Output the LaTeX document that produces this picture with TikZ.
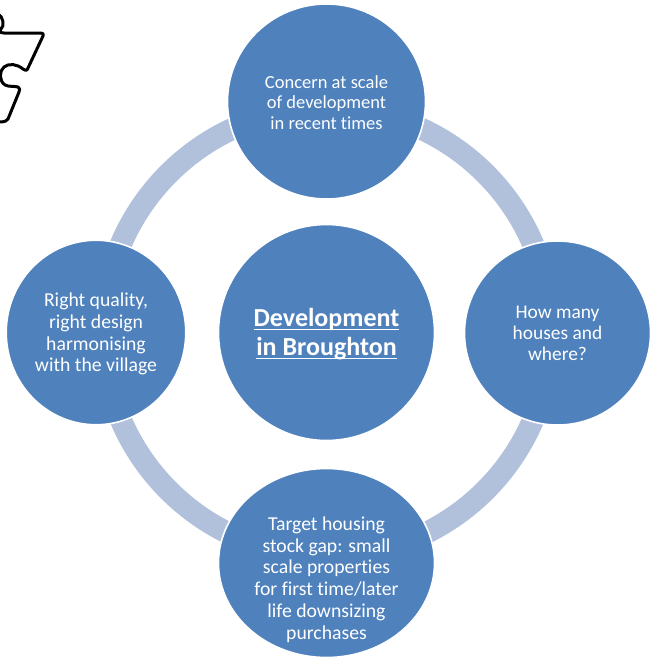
\documentclass[tikz,border=0pt]{standalone}
\usepackage{fontspec}
\usetikzlibrary{shapes.geometric}
\setmainfont{Carlito}[Ligatures=NoCommon]
\definecolor{hub}{RGB}{79,129,189}
\definecolor{ringc}{RGB}{177,193,220}
\newcommand\lineunder[1]{\setbox0\hbox{#1}\rlap{\rule[-3.4pt]{\wd0}{1.5pt}}\box0}
\tikzset{
  x=1pt,y=-1pt,
  disc/.style={ellipse,fill=hub,draw=white,line width=1.6pt,inner sep=0pt},
  caption/.style={inner sep=0pt,text=white,align=center},
  ringarc/.style={draw=ringc,line width=22pt},
  puzzle/.style={draw=black,line width=3pt,line join=round,line cap=round}
}
\begin{document}
\begin{tikzpicture}
\useasboundingbox (0,0) rectangle (656,657);
\coordinate (hubc) at (327,332);
\draw[ringarc] (hubc) circle [radius=224pt];
\node[disc,minimum width=198pt,minimum height=195pt] (top) at (326.5,101.5) {};
\node[disc,minimum width=186pt,minimum height=184pt] (right) at (557.5,333) {};
\node[disc,minimum width=179.5pt,minimum height=184.5pt] (left) at (96,332.5) {};
\node[disc,minimum width=216pt,minimum height=189pt] (bottom) at (326.5,563) {};
\node[disc,minimum width=216pt,minimum height=216pt] (centre) at (326.5,332.5) {};
\node[caption,font=\fontsize{18.5}{20.4}\selectfont] at (326.5,102.5) {Concern at scale\\of development\\in recent times};
\node[caption,font=\fontsize{19.4}{21}\selectfont] at (557.5,333) {How many\\houses and\\where?};
\node[caption,font=\fontsize{19.7}{21.7}\selectfont] at (96,334) {Right quality,\\right design\\harmonising\\with the village};
\node[caption,font=\fontsize{19.7}{21.8}\selectfont] at (326.5,579.5) {Target housing\\stock gap: small\\scale properties\\for first time/later\\life downsizing\\purchases};
\node[caption,font=\fontsize{26}{29}\selectfont\bfseries] at (326.5,334.5) {\lineunder{Development}\\\lineunder{in Broughton}};
\draw[puzzle] (-2,14) .. controls (3,16) and (5,26) .. (1,29) .. controls (-1,31) and (0,33) .. (4,33)
  -- (41,33) .. controls (43,33) and (44,34) .. (43,36)
  -- (28,68) .. controls (27,71) and (25,71) .. (23,69)
  .. controls (17,64) and (9,63) .. (4,67) .. controls (-1,71) and (-1,81) .. (5,85)
  .. controls (9,87) and (15,86) .. (18,87) .. controls (20,88) and (20,90) .. (19,92)
  -- (8,119) .. controls (7,121) and (5,122) .. (-2,122);
\end{tikzpicture}
\end{document}
